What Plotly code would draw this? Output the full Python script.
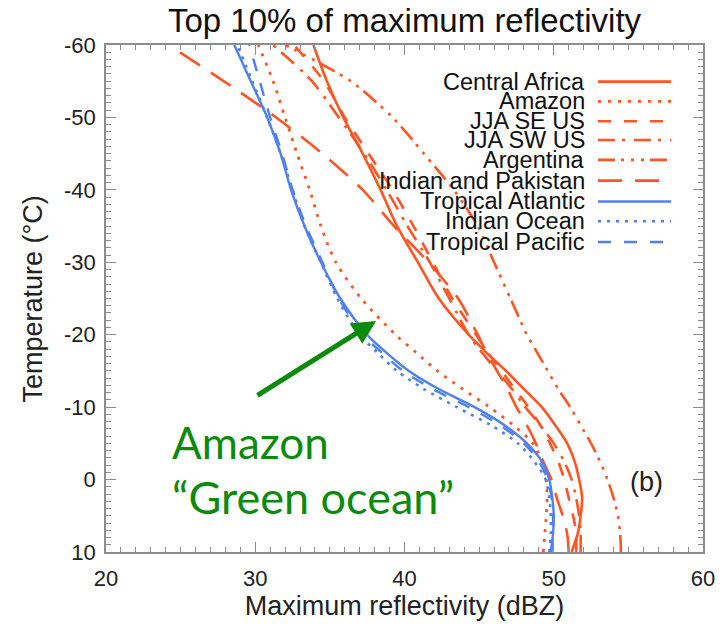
import plotly.graph_objects as go

# Temperature levels (deg C) at which each profile is sampled
temperature = [10, 7.5, 5, 2.5, 0, -2.5, -5, -7.5, -10, -12.5, -15, -17.5,
               -20, -25, -30, -35, -40, -45, -50, -55, -60]

# Top-10% maximum reflectivity profiles (dBZ)
central_africa = [51.2, 51.6, 51.8, 51.9, 51.7, 51.4, 50.9, 50.1, 49.2, 48.0, 46.8, 45.5,
                  44.3, 42.3, 40.9, 39.5, 38.4, 37.2, 35.9, 34.8, 33.9]
amazon = [49.3, 49.4, 49.5, 49.55, 49.5, 49.2, 48.6, 47.3, 45.7, 43.9, 42.2, 40.8,
          39.4, 37.1, 35.4, 34.4, 33.65, 32.8, 32.0, 31.2, 30.2]
jja_se_us = [51.5, 51.5, 51.3, 51.0, 50.7, 50.3, 49.75, 49.1, 48.3, 47.4, 46.5, 45.6,
             44.8, 43.2, 41.9, 40.6, 39.2, 37.6, 36.0, 34.6, 32.6]
jja_sw_us = [51.8, 51.8, 51.7, 51.5, 51.2, 50.7, 50.0, 49.1, 48.1, 47.2, 46.2, 45.2,
             44.3, 43.0, 41.7, 40.2, 38.8, 37.3, 35.6, 33.8, 31.2]
argentina = [54.5, 54.45, 54.3, 54.0, 53.6, 53.1, 52.5, 51.8, 51.1, 50.3, 49.6, 48.9,
             48.2, 47.1, 46.0, 44.9, 43.3, 41.3, 39.2, 36.4, 32.0]
india_pakistan = [51.0, 50.9, 50.6, 50.2, 49.85, 49.3, 48.8, 48.2, 47.5, 46.9, 46.2, 45.5,
                  44.9, 43.6, 41.6, 39.3, 37.2, 34.5, 31.4, 27.9, 24.2]
tropical_atlantic = [49.8, 49.95, 50.0, 49.9, 49.7, 49.2, 48.2, 46.7, 44.7, 42.3, 40.3, 38.8,
                     37.5, 35.7, 34.4, 33.3, 32.4, 31.7, 30.8, 29.7, 28.6]
indian_ocean = [49.7, 49.8, 49.8, 49.7, 49.45, 48.7, 47.6, 45.8, 43.5, 41.3, 39.5, 38.2,
                37.0, 35.5, 34.4, 33.3, 32.5, 31.7, 30.8, 29.8, 28.8]
tropical_pacific = [49.85, 49.95, 49.95, 49.85, 49.6, 49.0, 48.0, 46.4, 44.3, 41.9, 39.9, 38.5,
                    37.2, 35.6, 34.5, 33.4, 32.5, 31.8, 31.0, 30.3, 29.6]

region_names = ["Central Africa", "Amazon", "JJA SE US", "JJA SW US", "Argentina",
                "Indian and Pakistan", "Tropical Atlantic", "Indian Ocean", "Tropical Pacific"]
region_values = [central_africa, amazon, jja_se_us, jja_sw_us, argentina,
                 india_pakistan, tropical_atlantic, indian_ocean, tropical_pacific]

x_ticks = [20, 30, 40, 50, 60]
y_ticks = [10, 0, -10, -20, -30, -40, -50, -60]
y_tick_text = ["10", "0", "-10", "-20", "-30", "-40", "-50", "-60"]

ORANGE = "#FF5522"
BLUE = "#5080F0"
GREEN = "#0C8A0C"
FRAME = "#8C8C8C"
FONT = "Liberation Sans, Arial, sans-serif"

styles = [
    (ORANGE, "solid", 2.6),
    (ORANGE, "3px,7px", 2.8),
    (ORANGE, "13px,13px", 2.6),
    (ORANGE, "17px,7px,3px,9px", 2.6),
    (ORANGE, "17px,6px,3px,7px,3px,7px,3px,6px", 2.6),
    (ORANGE, "24px,13px", 2.6),
    (BLUE, "solid", 2.4),
    (BLUE, "3px,6px", 2.6),
    (BLUE, "13px,13px", 2.4),
]

fig = go.Figure()
for name, vals, (color, dash, width) in zip(region_names, region_values, styles):
    fig.add_trace(go.Scatter(
        x=vals, y=temperature, mode="lines", name=name, showlegend=False,
        line=dict(color=color, dash=dash, width=width, shape="spline", smoothing=0.8),
        hoverinfo="skip",
    ))

# Plot-area geometry (pixels) used for the hand-drawn key
L, R, T, B = 106, 703, 45, 557
def px_to_paper(px, py):
    return (px - L) / (R - L), (B - py) / (B - T)

annotations = []
shapes = []
key_rows = [82, 102, 122, 141, 161, 182, 203, 223, 244]
for name, (color, dash, width), row in zip(region_names, styles, key_rows):
    tx, ty = px_to_paper(587, row)
    annotations.append(dict(x=tx, y=ty, xref="paper", yref="paper", text=name,
                            showarrow=False, xanchor="right", yanchor="middle",
                            font=dict(family=FONT, size=23.5, color="#111111")))
    x0, _ = px_to_paper(598, row)
    x1, _ = px_to_paper(671, row)
    shapes.append(dict(type="line", xref="paper", yref="paper", x0=x0, x1=x1, y0=ty, y1=ty,
                       line=dict(color=color, dash=dash, width=width)))

annotations.append(dict(x=56.2, y=0.3, xref="x", yref="y", text="(b)", showarrow=False,
                        font=dict(family=FONT, size=27, color="#222222")))

# Vertical axis title
yt_x, yt_y = px_to_paper(33, 302)
annotations.append(dict(x=yt_x, y=yt_y, xref="paper", yref="paper",
                        text="Temperature (\u00b0C)", textangle=-90, showarrow=False,
                        xanchor="center", yanchor="middle",
                        font=dict(family=FONT, size=27, color="#222222")))

# Green callout for the Amazon profile
ax0, ay0 = px_to_paper(170, 446)
annotations.append(dict(x=ax0, y=ay0, xref="paper", yref="paper", text="Amazon",
                        showarrow=False, xanchor="left", yanchor="middle",
                        font=dict(family="Lato, Carlito, sans-serif", size=44, color=GREEN)))
ax1, ay1 = px_to_paper(170, 501)
annotations.append(dict(x=ax1, y=ay1, xref="paper", yref="paper", text="\u201cGreen ocean\u201d",
                        showarrow=False, xanchor="left", yanchor="middle",
                        font=dict(family="Lato, Carlito, sans-serif", size=45, color=GREEN)))
annotations.append(dict(x=38.1, y=-21.9, xref="x", yref="y", ax=30.05, ay=-11.5,
                        axref="x", ayref="y", text="", showarrow=True,
                        arrowhead=2, arrowsize=0.95, arrowwidth=5, arrowcolor=GREEN))

axis_common = dict(
    showline=True, linecolor=FRAME, linewidth=1.5, mirror="allticks",
    ticks="inside", ticklen=10, tickwidth=1.2, tickcolor=FRAME,
    minor=dict(ticks="inside", ticklen=5, tickcolor=FRAME, dtick=1, tickwidth=1),
    showgrid=False, zeroline=False,
    tickfont=dict(family=FONT, size=22, color="#222222"),
)

fig.update_layout(
    width=727, height=626,
    margin=dict(l=L, r=727 - R, t=T, b=626 - B),
    paper_bgcolor="white", plot_bgcolor="white",
    title=dict(text="Top 10% of maximum reflectivity", x=0.5, xref="paper",
               y=1 - 20 / 626, yref="container", yanchor="middle", xanchor="center",
               font=dict(family=FONT, size=33, color="#111111")),
    xaxis=dict(range=[20, 60], tickvals=x_ticks, ticklabelstandoff=6,
               title=dict(text="Maximum reflectivity (dBZ)", standoff=4,
                          font=dict(family=FONT, size=27, color="#222222")),
               **axis_common),
    yaxis=dict(range=[10, -60], tickvals=y_ticks, ticktext=y_tick_text, ticklabelstandoff=4,
               **axis_common),
    annotations=annotations,
    shapes=shapes,
)

fig.write_html("out.html")
